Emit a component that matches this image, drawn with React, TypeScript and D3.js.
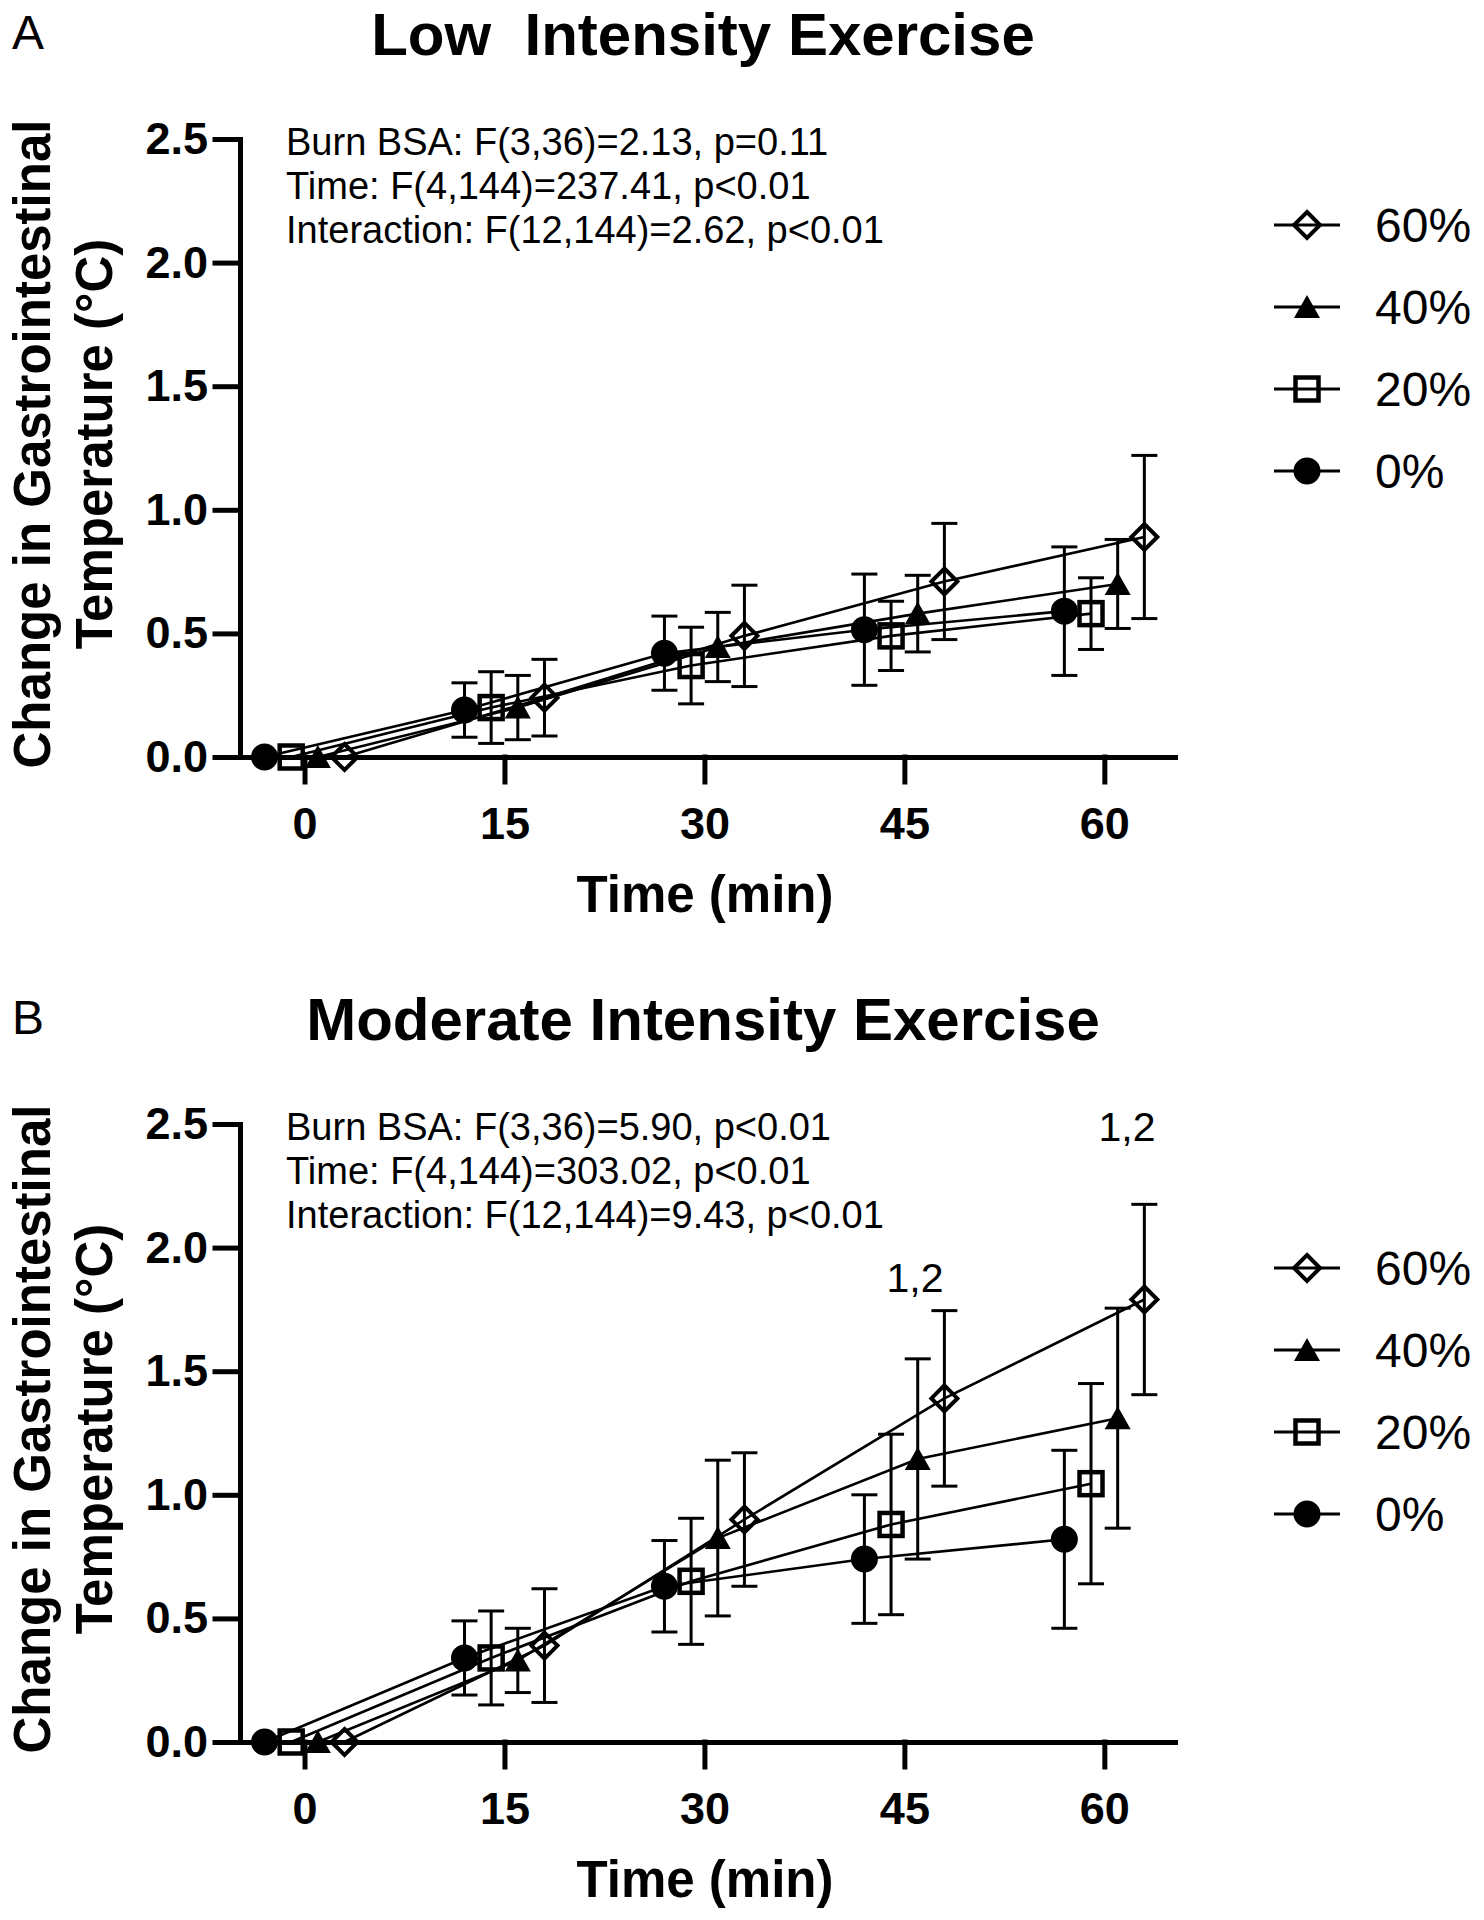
import React, { useEffect, useRef } from 'react';
import * as d3 from 'd3';

// sampling times (min) and axis ticks
const TIMES = [0, 15, 30, 45, 60];
const X_TICKS = [0, 15, 30, 45, 60];
const Y_TICKS = [0, 0.5, 1.0, 1.5, 2.0, 2.5];
const X_LIMITS = [-4.84, 65.3];
const Y_LIMITS = [0, 2.5];

// burn body-surface-area groups (legend order)
const GROUPS = ['60%', '40%', '20%', '0%'];

// low intensity: mean and SD of change in gastrointestinal temperature (°C)
const LOW_60 = [0, 0.24, 0.49, 0.71, 0.89];
const LOW_60_SD = [0, 0.155, 0.205, 0.235, 0.33];
const LOW_40 = [0, 0.2, 0.445, 0.58, 0.7];
const LOW_40_SD = [0, 0.13, 0.14, 0.155, 0.18];
const LOW_20 = [0, 0.2, 0.37, 0.49, 0.58];
const LOW_20_SD = [0, 0.145, 0.155, 0.14, 0.145];
const LOW_0 = [0, 0.19, 0.42, 0.515, 0.59];
const LOW_0_SD = [0, 0.11, 0.15, 0.225, 0.26];

// moderate intensity
const MOD_60 = [0, 0.39, 0.9, 1.39, 1.79];
const MOD_60_SD = [0, 0.23, 0.27, 0.355, 0.385];
const MOD_40 = [0, 0.33, 0.825, 1.145, 1.31];
const MOD_40_SD = [0, 0.13, 0.315, 0.405, 0.445];
const MOD_20 = [0, 0.34, 0.65, 0.88, 1.045];
const MOD_20_SD = [0, 0.19, 0.255, 0.365, 0.405];
const MOD_0 = [0, 0.34, 0.63, 0.74, 0.82];
const MOD_0_SD = [0, 0.15, 0.185, 0.26, 0.36];

const LOW_STATS = [
  'Burn BSA: F(3,36)=2.13, p=0.11',
  'Time: F(4,144)=237.41, p<0.01',
  'Interaction: F(12,144)=2.62, p<0.01',
];
const MOD_STATS = [
  'Burn BSA: F(3,36)=5.90, p<0.01',
  'Time: F(4,144)=303.02, p<0.01',
  'Interaction: F(12,144)=9.43, p<0.01',
];

// significance marks (label, time, value)
const MOD_NOTES = [
  { label: '1,2', time: 45.8, value: 1.82 },
  { label: '1,2', time: 61.7, value: 2.43 },
];

// drawing style per group
const SHAPES = ['diamond', 'triangle', 'square', 'circle'];
const DODGE = [3, 1, -1, -3]; // minutes

const FONT = "'Liberation Sans', Arial, Helvetica, sans-serif";

const panels = [
  {
    letter: 'A',
    title: 'Low  Intensity Exercise',
    stats: LOW_STATS,
    means: [LOW_60, LOW_40, LOW_20, LOW_0],
    sds: [LOW_60_SD, LOW_40_SD, LOW_20_SD, LOW_0_SD],
    notes: [],
    legendTop: 225,
  },
  {
    letter: 'B',
    title: 'Moderate Intensity Exercise',
    stats: MOD_STATS,
    means: [MOD_60, MOD_40, MOD_20, MOD_0],
    sds: [MOD_60_SD, MOD_40_SD, MOD_20_SD, MOD_0_SD],
    notes: MOD_NOTES,
    legendTop: 283,
  },
];

const drawMarker = (g: any, shape: string, cx: number, cy: number) => {
  if (shape === 'circle') {
    g.append('circle').attr('cx', cx).attr('cy', cy).attr('r', 13.5).attr('fill', '#000');
  } else if (shape === 'square') {
    g.append('rect')
      .attr('x', cx - 11.5).attr('y', cy - 11.5)
      .attr('width', 23).attr('height', 23)
      .attr('fill', 'none').attr('stroke', '#000').attr('stroke-width', 4.5);
  } else if (shape === 'triangle') {
    g.append('path')
      .attr('d', `M${cx},${cy - 12}L${cx + 13},${cy + 11}L${cx - 13},${cy + 11}Z`)
      .attr('fill', '#000');
  } else {
    g.append('path')
      .attr('d', `M${cx},${cy - 13}L${cx + 13},${cy}L${cx},${cy + 13}L${cx - 13},${cy}Z`)
      .attr('fill', 'none').attr('stroke', '#000').attr('stroke-width', 4);
  }
};

const App = () => {
  const svgRef = useRef<SVGSVGElement | null>(null);

  useEffect(() => {
    const svg = d3.select(svgRef.current);
    svg.selectAll('*').remove();

    const x = d3.scaleLinear().domain(X_LIMITS).range([240, 1175]);
    const y = d3.scaleLinear().domain(Y_LIMITS).range([757, 139]);

    panels.forEach((p, pi) => {
      const g = svg.append('g').attr('transform', `translate(0,${pi * 985})`);

      // panel letter + title
      g.append('text').attr('x', 12).attr('y', 49)
        .style('font-family', FONT).style('font-size', '48px').text(p.letter);
      g.append('text').attr('x', 703).attr('y', 55).attr('text-anchor', 'middle')
        .style('font-family', FONT).style('font-size', '60px').style('font-weight', 'bold')
        .style('white-space', 'pre').text(p.title);

      // axes
      const yAxis = g.append('g').attr('transform', 'translate(240,0)')
        .call(d3.axisLeft(y).tickValues(Y_TICKS).tickSize(25).tickSizeOuter(0).tickPadding(7).tickFormat(d3.format('.1f')));
      const xAxis = g.append('g').attr('transform', 'translate(0,757)')
        .call(d3.axisBottom(x).tickValues(X_TICKS).tickSize(25).tickSizeOuter(0).tickPadding(25));
      [yAxis, xAxis].forEach(a => {
        a.selectAll('path, line').attr('stroke', '#000').attr('stroke-width', 5).attr('stroke-linecap', 'square');
        a.selectAll('text').style('font-family', FONT).style('font-size', '45px').style('font-weight', 'bold').attr('fill', '#000');
      });

      // axis titles
      g.append('text').attr('transform', 'translate(50,444) rotate(-90)').attr('text-anchor', 'middle')
        .style('font-family', FONT).style('font-size', '51px').style('font-weight', 'bold')
        .text('Change in Gastrointestinal');
      g.append('text').attr('transform', 'translate(112,444) rotate(-90)').attr('text-anchor', 'middle')
        .style('font-family', FONT).style('font-size', '51px').style('font-weight', 'bold')
        .text('Temperature (°C)');
      g.append('text').attr('x', 705).attr('y', 912).attr('text-anchor', 'middle')
        .style('font-family', FONT).style('font-size', '51px').style('font-weight', 'bold')
        .text('Time (min)');

      // statistics
      p.stats.forEach((s, i) => {
        g.append('text').attr('x', 286).attr('y', 155 + i * 44)
          .style('font-family', FONT).style('font-size', '38px').text(s);
      });

      // connecting lines
      const line = d3.line<[number, number]>().x(d => x(d[0])).y(d => y(d[1]));
      p.means.forEach((m, gi) => {
        const pts: [number, number][] = TIMES.map((t, i) => [t + DODGE[gi], m[i]]);
        g.append('path').datum(pts).attr('d', line)
          .attr('fill', 'none').attr('stroke', '#000').attr('stroke-width', 2.6);
      });

      // error bars
      p.means.forEach((m, gi) => {
        TIMES.forEach((t, i) => {
          const sd = p.sds[gi][i];
          if (!sd) return;
          const cx = x(t + DODGE[gi]);
          const y1 = y(m[i] + sd);
          const y2 = y(m[i] - sd);
          const eb = g.append('g').attr('stroke', '#000').attr('stroke-width', 3);
          eb.append('line').attr('x1', cx).attr('x2', cx).attr('y1', y1).attr('y2', y2);
          eb.append('line').attr('x1', cx - 13).attr('x2', cx + 13).attr('y1', y1).attr('y2', y1);
          eb.append('line').attr('x1', cx - 13).attr('x2', cx + 13).attr('y1', y2).attr('y2', y2);
        });
      });

      // markers
      p.means.forEach((m, gi) => {
        TIMES.forEach((t, i) => drawMarker(g, SHAPES[gi], x(t + DODGE[gi]), y(m[i])));
      });

      // significance notes
      p.notes.forEach(n => {
        g.append('text').attr('x', x(n.time)).attr('y', y(n.value)).attr('text-anchor', 'middle')
          .style('font-family', FONT).style('font-size', '41px').text(n.label);
      });

      // legend
      GROUPS.forEach((name, gi) => {
        const ly = p.legendTop + gi * 82;
        g.append('line').attr('x1', 1274).attr('x2', 1340).attr('y1', ly).attr('y2', ly)
          .attr('stroke', '#000').attr('stroke-width', 3);
        drawMarker(g, SHAPES[gi], 1307, ly);
        g.append('text').attr('x', 1375).attr('y', ly).attr('dy', '0.36em')
          .style('font-family', FONT).style('font-size', '48px').text(name);
      });
    });
  }, []);

  return (
    <div style={{ position: 'absolute', left: 0, top: 0 }}>
      <svg ref={svgRef} width={1484} height={1920} style={{ display: 'block', background: '#fff' }} />
    </div>
  );
};

export default App;
